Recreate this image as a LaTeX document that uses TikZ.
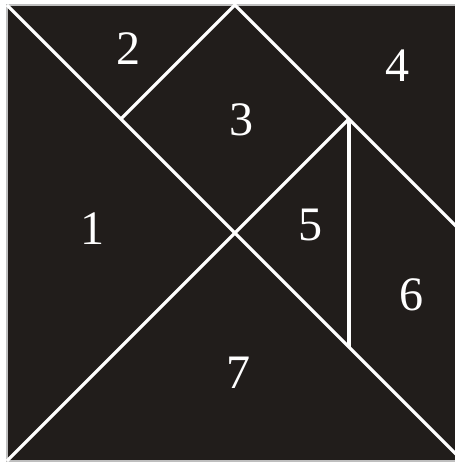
\documentclass[tikz,border=0pt]{standalone}
\usepackage{fontspec}
\setmainfont{Liberation Serif}
\usepackage{xcolor}
\definecolor{board}{RGB}{33,29,27}

\begin{document}
\begin{tikzpicture}[cut/.style={draw=white, line width=0.8pt}, num/.style={text=white, font=\fontsize{12}{14}\selectfont}]
      \useasboundingbox (-0.061,-0.009) rectangle (3.93,4.044);
      \coordinate (A) at (0,0);
      \coordinate (B) at (4,0);
      \coordinate (C) at (4,4);
      \coordinate (D) at (0,4);
      \coordinate (O) at (2,2);
      \coordinate (E) at (2,4);
      \coordinate (F) at (1,3);
      \coordinate (G) at (3,3);
      \coordinate (H) at (4,2);
      \coordinate (K) at (3,1);
      \filldraw [fill=board, draw=gray!50, line width=0.5pt] (A) rectangle (C);
      \draw [cut] (D) to (B);
      \draw [cut] (A) to (O) to (G);
      \draw [cut] (F) to (E) to (H);
      \draw [cut] (G) to (K);
      \node [num] (N1) at (0.754,2.04) {1};
      \node [num] (N2) at (1.07,3.62) {2};
      \node [num] (N3) at (2.06,2.99) {3};
      \node [num] (N4) at (3.43,3.47) {4};
      \node [num] (N5) at (2.66,2.07) {5};
      \node [num] (N6) at (3.55,1.46) {6};
      \node [num] (N7) at (2.03,0.77) {7};
    \end{tikzpicture}
\end{document}
